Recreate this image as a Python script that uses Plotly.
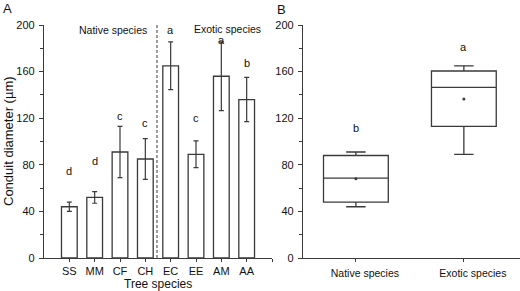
import plotly.graph_objects as go

# ---- Panel A data ----
species = ["SS", "MM", "CF", "CH", "EC", "EE", "AM", "AA"]
diam_mean = [44, 52, 91, 85, 165, 89, 156, 136]
diam_err = [4, 5, 22, 17.5, 20.5, 11.5, 29.5, 19]
letters_a = ["d", "d", "c", "c", "a", "c", "a", "b"]
letters_a_y = [75, 83, 122, 116, 196, 120, 187, 167]

# ---- Panel B data ----
groups = ["Native species", "Exotic species"]
q1 = [48, 113]
median = [68.5, 146.5]
q3 = [88, 160.5]
lower = [44, 89]
upper = [91, 165]
means = [68, 136.5]
letters_b = ["b", "a"]
letters_b_y = [112, 181]

FONT = "Liberation Sans, Arial, sans-serif"
INK = "#3a3a3a"
TXT = "#111111"
xa_pos = list(range(len(species)))
xb_pos = list(range(len(groups)))

fig = go.Figure()

fig.add_trace(go.Bar(
    x=xa_pos, y=diam_mean, width=0.62,
    marker=dict(color="white", line=dict(color=INK, width=1.3)),
    error_y=dict(type="data", array=diam_err, color=INK, thickness=1.2, width=2.5),
    xaxis="x", yaxis="y", showlegend=False,
))

fig.add_trace(go.Box(
    x=xb_pos, q1=q1, median=median, q3=q3, lowerfence=lower, upperfence=upper,
    width=0.6, whiskerwidth=0.3, fillcolor="white",
    line=dict(color=INK, width=1.3), boxpoints=False,
    xaxis="x2", yaxis="y2", showlegend=False,
))
fig.add_trace(go.Scatter(
    x=xb_pos, y=means, mode="markers",
    marker=dict(color=INK, size=3),
    xaxis="x2", yaxis="y2", showlegend=False,
))

ydom = [1 - 258 / 291, 1 - 25 / 291]
axis_common = dict(showline=True, linecolor=INK, linewidth=1.2, showgrid=False,
                   zeroline=False, ticks="outside", tickcolor=INK, ticklen=4,
                   automargin=False,
                   tickfont=dict(family=FONT, size=11, color=TXT))
yax = dict(axis_common, range=[0, 200], tickvals=[0, 40, 80, 120, 160, 200],
           minor=dict(tickvals=[20, 60, 100, 140, 180], ticks="outside", ticklen=2.5,
                      tickcolor=INK),
           domain=ydom, ticklabelstandoff=2)

fig.update_layout(
    width=520, height=291,
    margin=dict(l=0, r=0, t=0, b=0),
    paper_bgcolor="white", plot_bgcolor="white",
    xaxis=dict(axis_common, domain=[44 / 520, 272 / 520], range=[-1, 8],
               tickvals=list(range(len(species) + 1)), ticktext=species + [""],
               anchor="y", ticklen=3, ticklabelstandoff=0),
    yaxis=dict(yax, anchor="x"),
    xaxis2=dict(axis_common, domain=[303 / 520, 1.0], range=[-0.49, 1.52],
                tickvals=xb_pos, ticktext=groups, anchor="y2", ticklen=3,
                ticklabelstandoff=2, ticklabelshift=9,
                tickfont=dict(family=FONT, size=10.5, color=TXT)),
    yaxis2=dict(yax, anchor="x2"),
    font=dict(family=FONT, color=TXT),
)

# dashed separator
fig.add_shape(type="line", x0=3.46, x1=3.46, y0=0, y1=200, xref="x", yref="y",
              line=dict(color=INK, width=1, dash="3px,2px"))

def txt(x, y, t, xref, yref, size=11, angle=0):
    return dict(x=x, y=y, xref=xref, yref=yref, text=t, showarrow=False,
                xanchor="center", yanchor="middle", textangle=angle,
                font=dict(size=size, family=FONT, color=TXT))

ann = []
for xi, t, yy in zip(xa_pos, letters_a, letters_a_y):
    ann.append(txt(xi, yy, t, "x", "y"))
for xi, t, yy in zip(xb_pos, letters_b, letters_b_y):
    ann.append(txt(xi, yy, t, "x2", "y2"))
ann += [
    txt(1.72, 196, "Native species", "x", "y", 10.5),
    txt(6.25, 197, "Exotic species", "x", "y", 10.5),
    txt(8 / 520, 1 - 141 / 291, "Conduit diameter (µm)", "paper", "paper", 13, -90),
    txt(158 / 520, 1 - 284 / 291, "Tree species", "paper", "paper", 12),
    txt(7 / 520, 1 - 8 / 291, "A", "paper", "paper", 13),
    txt(281 / 520, 1 - 9 / 291, "B", "paper", "paper", 13),
]
fig.update_layout(annotations=ann)

fig.write_html("out.html", config={"displayModeBar": False},
               post_script="document.body.style.margin='0px';document.body.style.overflow='hidden';")
